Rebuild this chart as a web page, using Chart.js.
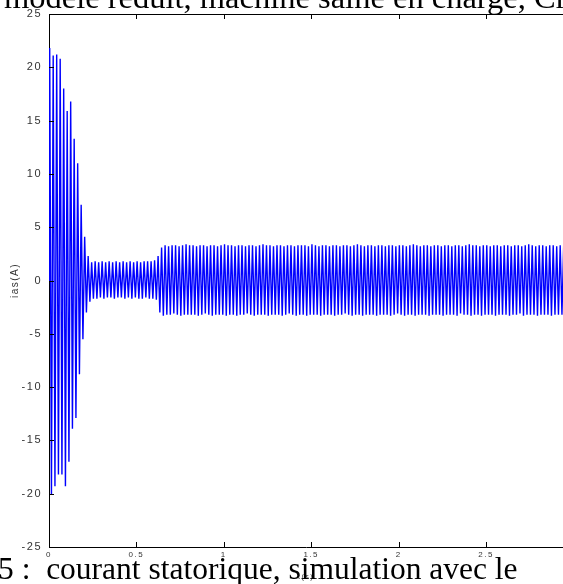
<!DOCTYPE html>
<html>
<head>
<meta charset="utf-8">
<script src="https://cdn.jsdelivr.net/npm/chart.js@4"></script>
<style>
  body { margin: 0; background: #fff; overflow: hidden; }
  #wrap { position: relative; width: 563px; height: 584px; overflow: hidden; }
  .doc { position: absolute; font-family: 'Liberation Serif', 'Times New Roman', serif;
         line-height: 32px; white-space: pre; color: #000; }
  #head { left: 4px; top: -19px; font-size: 32.5px; }
  #foot { left: -2px; top: 553px; font-size: 31.5px; }
</style>
</head>
<body>
<div id="wrap">
  <canvas id="myChart" width="563" height="584"></canvas>
  <div class="doc" id="head">modèle réduit, machine saine en charge, Cr</div>
  <div class="doc" id="foot">5 :  courant statorique, simulation avec le</div>
</div>
<script>
// peak values of ias (A), one per half period
const firstPeak = 0.004;   // s
const halfPeriod = 0.01;   // s (50 Hz)

// demarrage
const startup = [21.8, -20.1, 21.1, -19.3, 21.2, -18.2, 20.8, -18.2, 18.0, -19.3,
  15.9, -17.0, 16.8, -13.9, 13.3, -12.9, 11.0, -8.8, 7.1, -5.5, 4.1, -3.0, 2.3, -2.0];

// regime a vide
const noLoad = [1.7, -1.7, 1.8, -1.7, 1.7, -1.6, 1.8, -1.7, 1.7, -1.6,
  1.8, -1.6, 1.7, -1.7, 1.8, -1.6, 1.7, -1.6, 1.8, -1.7,
  1.7, -1.6, 1.8, -1.7, 1.7, -1.6, 1.8, -1.7, 1.7, -1.7,
  1.8, -1.6, 1.8, -1.7, 1.8, -1.7, 1.9, -1.8];

// en charge
const loaded = [2.3, -3.0, 3.1, -3.3, 3.3, -3.2, 3.2, -3.2, 3.3, -3.1, 3.3, -3.2, 3.2, -3.3, 3.3, -3.2, 3.4, -3.2, 3.3, -3.2,
  3.3, -3.2, 3.2, -3.3, 3.3, -3.2, 3.3, -3.1, 3.2, -3.2, 3.3, -3.3, 3.3, -3.2, 3.2, -3.2, 3.3, -3.2, 3.4, -3.3,
  3.3, -3.2, 3.3, -3.2, 3.2, -3.3, 3.3, -3.2, 3.3, -3.2, 3.2, -3.1, 3.3, -3.2, 3.3, -3.3, 3.2, -3.2, 3.3, -3.2,
  3.4, -3.2, 3.3, -3.3, 3.3, -3.2, 3.2, -3.2, 3.3, -3.2, 3.3, -3.3, 3.2, -3.2, 3.3, -3.1, 3.3, -3.2, 3.2, -3.3,
  3.3, -3.2, 3.3, -3.2, 3.3, -3.3, 3.2, -3.2, 3.4, -3.2, 3.3, -3.2, 3.2, -3.3, 3.3, -3.2, 3.3, -3.2, 3.2, -3.2,
  3.3, -3.3, 3.3, -3.2, 3.2, -3.2, 3.3, -3.1, 3.3, -3.2, 3.2, -3.3, 3.3, -3.2, 3.4, -3.2, 3.3, -3.3, 3.2, -3.2,
  3.3, -3.2, 3.3, -3.2, 3.2, -3.3, 3.3, -3.2, 3.3, -3.2, 3.2, -3.2, 3.3, -3.3, 3.3, -3.2, 3.2, -3.1, 3.3, -3.2,
  3.3, -3.3, 3.2, -3.2, 3.3, -3.2, 3.4, -3.3, 3.3, -3.2, 3.2, -3.2, 3.3, -3.2, 3.3, -3.3, 3.2, -3.2, 3.3, -3.2,
  3.3, -3.2, 3.2, -3.3, 3.3, -3.2, 3.3, -3.2, 3.2, -3.2, 3.3, -3.3, 3.3, -3.1, 3.2, -3.2, 3.3, -3.2, 3.4, -3.3,
  3.3, -3.2, 3.3, -3.2, 3.2, -3.3, 3.3, -3.2, 3.3, -3.2, 3.2, -3.2, 3.3, -3.3, 3.3, -3.2, 3.2, -3.2, 3.3, -3.2,
  3.3, -3.3, 3.2, -3.2, 3.3, -3.2, 3.3, -3.1, 3.2, -3.3, 3.3, -3.2, 3.4, -3.2, 3.3, -3.2, 3.2, -3.3, 3.3, -3.2,
  3.3, -3.2, 3.2, -3.2, 3.3, -3.3, 3.3, -3.2, 3.2, -3.2, 3.3, -3.2, 3.3, -3.3];

const yTicks = [-25, 25, 5];     // min, max, step
const xTicks = [0, 2.94, 0.5];

const peaks = [...startup, ...noLoad, ...loaded];
const points = [{x: 0, y: 0}].concat(peaks.map((v, i) => ({x: firstPeak + i * halfPeriod, y: v})));

// spaced out axis text like the matlab export
const spacedText = {
  id: 'spacedText',
  beforeUpdate(chart) { chart.ctx.letterSpacing = '1.5px'; },
  beforeDraw(chart) { chart.ctx.letterSpacing = '1.5px'; }
};

// matlab style box : top edge + ticks pointing inside
const innerTicks = {
  id: 'innerTicks',
  afterDraw(chart) {
    const {ctx, chartArea: a, scales: {x, y}} = chart;
    ctx.save();
    ctx.strokeStyle = '#000';
    ctx.lineWidth = 1;
    ctx.beginPath();
    ctx.moveTo(a.left, a.top + 0.5);
    ctx.lineTo(a.right, a.top + 0.5);
    y.ticks.forEach(t => {
      const py = Math.round(y.getPixelForValue(t.value)) + 0.5;
      ctx.moveTo(a.left, py);
      ctx.lineTo(a.left + 5, py);
    });
    x.ticks.forEach(t => {
      const px = Math.round(x.getPixelForValue(t.value)) + 0.5;
      ctx.moveTo(px, a.bottom);
      ctx.lineTo(px, a.bottom - 5);
      ctx.moveTo(px, a.top);
      ctx.lineTo(px, a.top + 5);
    });
    ctx.stroke();
    ctx.restore();
  }
};

const tickFont = {family: "'Liberation Sans Narrow', 'Liberation Sans', sans-serif"};

new Chart('myChart', {
  type: 'line',
  data: {
    datasets: [{
      label: 'ias',
      data: points,
      borderColor: '#0000ff',
      borderWidth: 1.4,
      pointRadius: 0,
      tension: 0
    }]
  },
  options: {
    responsive: false,
    animation: false,
    layout: {padding: {top: 14, left: 0, right: 0, bottom: 0}},
    plugins: {legend: {display: false}, tooltip: {enabled: false}},
    scales: {
      x: {
        type: 'linear',
        min: xTicks[0], max: xTicks[1],
        grid: {display: false, drawTicks: false},
        border: {display: true, color: '#000'},
        ticks: {stepSize: xTicks[2], includeBounds: false, autoSkip: false, maxRotation: 0,
                padding: 3, color: '#333', font: {...tickFont, size: 8},
                callback: v => String(v)},
        title: {display: true, text: 't(s)', color: '#333', font: {...tickFont, size: 7},
                padding: {top: 0, bottom: 3}},
        afterFit: s => { s.height = 37; }
      },
      y: {
        min: yTicks[0], max: yTicks[1],
        grid: {display: false, drawTicks: false},
        border: {display: true, color: '#000'},
        ticks: {stepSize: yTicks[2], padding: 7, color: '#333', font: {...tickFont, size: 11},
                callback: v => String(v)},
        title: {display: true, text: 'ias(A)', color: '#333', font: {...tickFont, size: 10},
                padding: {top: 9, bottom: 0}},
        afterFit: s => { s.width = 49; }
      }
    }
  },
  plugins: [spacedText, innerTicks]
});
</script>
</body>
</html>
